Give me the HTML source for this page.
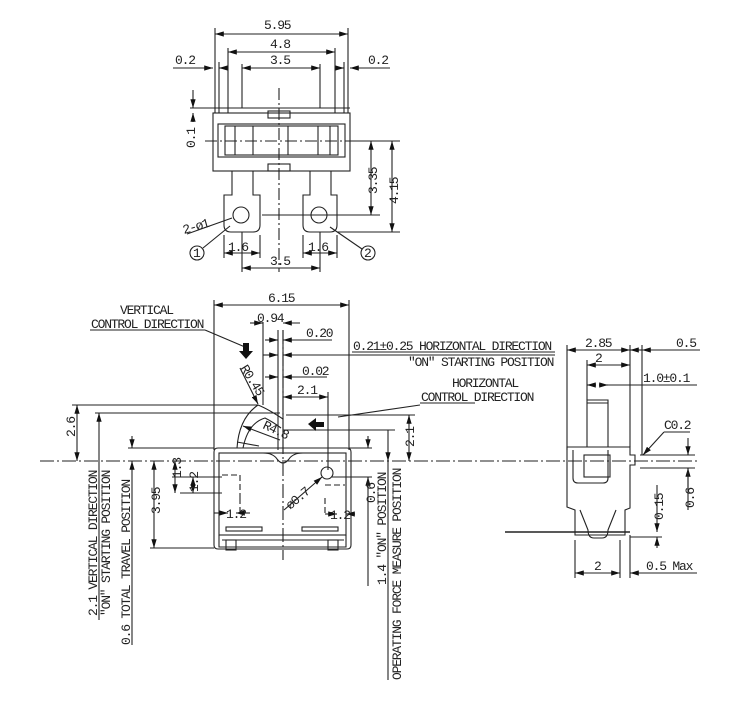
<!DOCTYPE html>
<html><head><meta charset="utf-8"><style>
html,body{margin:0;padding:0;background:#fff}
svg{display:block}
text{font-family:"Liberation Mono",monospace;font-size:13px;letter-spacing:-1.2px;fill:#222}
</style></head><body>
<svg width="750" height="701" viewBox="0 0 750 701" xmlns="http://www.w3.org/2000/svg">
<defs>
<marker id="a" viewBox="0 0 10 6" refX="10" refY="3" markerWidth="8" markerHeight="5" orient="auto-start-reverse"><path d="M0,0L10,3L0,6z" fill="#111"/></marker>
</defs>
<g stroke="#222" stroke-width="1.1" fill="none">
<!-- ===== TOP VIEW ===== -->
<line x1="215" y1="34" x2="348" y2="34" marker-start="url(#a)" marker-end="url(#a)"/>
<line x1="228" y1="52" x2="335" y2="52" marker-start="url(#a)" marker-end="url(#a)"/>
<line x1="242" y1="68" x2="320" y2="68" marker-start="url(#a)" marker-end="url(#a)"/>
<line x1="173" y1="68" x2="213" y2="68" marker-end="url(#a)"/>
<line x1="219" y1="68" x2="228" y2="68" marker-start="url(#a)"/>
<line x1="335" y1="68" x2="344" y2="68" marker-end="url(#a)"/>
<line x1="350" y1="68" x2="390" y2="68" marker-start="url(#a)"/>
<line x1="215" y1="28" x2="215" y2="113"/><line x1="348" y1="28" x2="348" y2="113"/>
<line x1="219" y1="62" x2="219" y2="113"/><line x1="344" y1="62" x2="344" y2="113"/>
<line x1="228" y1="48" x2="228" y2="113"/><line x1="335" y1="48" x2="335" y2="113"/>
<line x1="242" y1="64" x2="242" y2="108"/><line x1="320" y1="64" x2="320" y2="108"/>
<line x1="190" y1="108" x2="350" y2="108"/>
<line x1="193" y1="90" x2="193" y2="108" marker-end="url(#a)"/>
<line x1="193" y1="122" x2="193" y2="113" marker-end="url(#a)"/>
<rect x="213" y="113" width="137" height="58"/>
<rect x="218" y="124" width="127" height="33"/>
<rect x="225" y="126" width="113" height="29"/>
<path d="M235,126v29M253,126v29M288,126v29M318,126v29M330,126v29"/>
<rect x="268" y="111" width="22" height="7"/><rect x="268" y="164" width="22" height="7"/>
<path d="M232,171v24h-8v30q0,7 7,7h22q7,0 7-7v-30h-7v-24"/>
<path d="M310,171v24h-7v30q0,7 7,7h20q7,0 7-7v-30h-6v-24"/>
<circle cx="241" cy="215" r="8"/><circle cx="319" cy="215" r="8"/>
<circle cx="197" cy="253" r="7"/><circle cx="368" cy="253" r="7"/>
<line x1="203" y1="248" x2="230" y2="226"/><line x1="362" y1="249" x2="330" y2="227"/>
<line x1="187" y1="234" x2="232" y2="218"/>
<line x1="350" y1="141" x2="400" y2="141"/><line x1="262" y1="215" x2="380" y2="215"/><line x1="337" y1="232" x2="400" y2="232"/>
<line x1="371" y1="141" x2="371" y2="215" marker-start="url(#a)" marker-end="url(#a)"/>
<line x1="392" y1="141" x2="392" y2="232" marker-start="url(#a)" marker-end="url(#a)"/>
<line x1="224" y1="235" x2="224" y2="258"/><line x1="260" y1="235" x2="260" y2="258"/>
<line x1="303" y1="235" x2="303" y2="258"/><line x1="337" y1="235" x2="337" y2="258"/>
<line x1="242" y1="232" x2="242" y2="272"/><line x1="320" y1="232" x2="320" y2="272"/>
<line x1="224" y1="253" x2="242" y2="253" marker-start="url(#a)"/>
<line x1="242" y1="253" x2="260" y2="253" marker-end="url(#a)"/>
<line x1="303" y1="253" x2="320" y2="253" marker-start="url(#a)"/>
<line x1="320" y1="253" x2="337" y2="253" marker-end="url(#a)"/>
<line x1="242" y1="268" x2="320" y2="268" marker-start="url(#a)" marker-end="url(#a)"/>
<g stroke-dasharray="12 3 2 3"><line x1="279" y1="88" x2="279" y2="272"/><line x1="205" y1="141" x2="350" y2="141"/></g>

<!-- ===== FRONT VIEW ===== -->
<line x1="214" y1="305" x2="349" y2="305" marker-start="url(#a)" marker-end="url(#a)"/>
<line x1="214" y1="300" x2="214" y2="450"/><line x1="349" y1="300" x2="349" y2="450"/>
<path d="M214,452q0-4 4-4h129q4,0 4,4v93q0,4-4,4h-129q-4,0-4-4z"/>
<rect x="219" y="453" width="127" height="82"/>
<path d="M219,535v12h127v-12M222,540h122"/>
<rect x="226" y="527" width="36" height="4"/><rect x="302" y="527" width="36" height="4"/>
<rect x="226" y="540" width="10" height="10"/><rect x="328" y="540" width="10" height="10"/>
<path d="M263,453q10,0 14,6q6,8 12,0q4-6 14-6"/>
<path d="M237,448q2-30 21-43q10,4 25,14"/>
<path d="M243,448q5-25 22-30q8,4 16,10"/>
<path d="M237,442l22,4"/>
<line x1="278" y1="330" x2="278" y2="450"/><line x1="283" y1="330" x2="283" y2="452"/>
<line x1="263" y1="322" x2="263" y2="405"/>
<line x1="250" y1="323" x2="263" y2="323" marker-end="url(#a)"/>
<line x1="300" y1="323" x2="283" y2="323" marker-end="url(#a)"/>
<line x1="265" y1="340" x2="278" y2="340" marker-end="url(#a)"/>
<line x1="332" y1="340" x2="283" y2="340" marker-end="url(#a)"/>
<line x1="263" y1="355" x2="278" y2="355" marker-end="url(#a)"/>
<line x1="555" y1="355" x2="283" y2="355" marker-end="url(#a)"/>
<line x1="265" y1="377" x2="278" y2="377" marker-end="url(#a)"/>
<line x1="327" y1="377" x2="283" y2="377" marker-end="url(#a)"/>
<line x1="283" y1="397" x2="328" y2="397" marker-start="url(#a)" marker-end="url(#a)"/>
<line x1="328" y1="392" x2="328" y2="470"/>
<line x1="240" y1="368" x2="258" y2="404" marker-end="url(#a)"/>
<line x1="280" y1="440" x2="243" y2="426" marker-end="url(#a)"/>
<line x1="205" y1="330" x2="245" y2="347"/>
<line x1="338" y1="417" x2="420" y2="405"/>
<line x1="72" y1="405" x2="258" y2="405"/>
<line x1="95" y1="413" x2="280" y2="413"/>
<line x1="283" y1="430" x2="395" y2="430"/>
<line x1="286" y1="415" x2="415" y2="415"/>
<line x1="128" y1="448" x2="214" y2="448"/>
<line x1="77" y1="405" x2="77" y2="461" marker-start="url(#a)" marker-end="url(#a)"/>
<line x1="99" y1="413" x2="99" y2="461" marker-start="url(#a)"/>
<line x1="99" y1="461" x2="99" y2="620"/>
<line x1="132" y1="436" x2="132" y2="448" marker-end="url(#a)"/>
<line x1="132" y1="472" x2="132" y2="461" marker-end="url(#a)"/>
<line x1="132" y1="472" x2="132" y2="645"/>
<line x1="150" y1="548" x2="214" y2="548"/>
<line x1="154" y1="461" x2="154" y2="548" marker-start="url(#a)" marker-end="url(#a)"/>
<line x1="175" y1="461" x2="175" y2="493" marker-start="url(#a)" marker-end="url(#a)"/>
<line x1="172" y1="477" x2="222" y2="477"/><line x1="180" y1="493" x2="222" y2="493"/>
<line x1="193" y1="477" x2="193" y2="493" marker-start="url(#a)" marker-end="url(#a)"/>
<line x1="409" y1="415" x2="409" y2="461" marker-start="url(#a)" marker-end="url(#a)"/>
<line x1="388" y1="430" x2="388" y2="461" marker-end="url(#a)"/>
<line x1="388" y1="461" x2="388" y2="680"/>
<line x1="368" y1="436" x2="368" y2="448" marker-end="url(#a)"/>
<line x1="368" y1="490" x2="368" y2="477" marker-end="url(#a)"/>
<line x1="368" y1="477" x2="368" y2="586"/>
<line x1="332" y1="477" x2="372" y2="477"/>
<line x1="349" y1="448" x2="372" y2="448"/>
<circle cx="327" cy="473" r="6"/>
<line x1="284" y1="510" x2="322" y2="477" marker-end="url(#a)"/>
<path stroke-dasharray="6 3" d="M222,475h18v23M240,498v15M325,485h20M325,498v15"/>
<line x1="214" y1="513" x2="228" y2="513" marker-end="url(#a)"/>
<line x1="250" y1="513" x2="236" y2="513" marker-end="url(#a)"/>
<line x1="325" y1="514" x2="337" y2="514" marker-end="url(#a)"/>
<line x1="355" y1="514" x2="346" y2="514" marker-end="url(#a)"/>
<g stroke-dasharray="14 3 2 3"><line x1="283" y1="330" x2="283" y2="560"/><line x1="40" y1="461" x2="700" y2="461"/></g>
<line x1="90" y1="330" x2="205" y2="330"/>
<line x1="352" y1="352" x2="555" y2="352"/>
<line x1="420" y1="403" x2="475" y2="403"/>

<!-- ===== SIDE VIEW ===== -->
<line x1="567" y1="350" x2="630" y2="350" marker-start="url(#a)" marker-end="url(#a)"/>
<line x1="630" y1="350" x2="642" y2="350" marker-start="url(#a)"/>
<line x1="642" y1="350" x2="700" y2="350" marker-start="url(#a)"/>
<line x1="587" y1="365" x2="630" y2="365" marker-start="url(#a)" marker-end="url(#a)"/>
<line x1="587" y1="385" x2="596" y2="385" marker-start="url(#a)"/>
<line x1="599" y1="385" x2="608" y2="385" marker-end="url(#a)"/>
<line x1="608" y1="385" x2="697" y2="385"/>
<line x1="567" y1="345" x2="567" y2="450"/><line x1="630" y1="345" x2="630" y2="447"/><line x1="642" y1="345" x2="642" y2="455"/>
<line x1="587" y1="360" x2="587" y2="400"/>
<path d="M587,447v-47h21v47M587,403h21"/>
<path d="M567,447h63v8h5v10h-5v43l-5,2v25h-50v-25l-8-3z"/>
<path d="M573,450v28q0,5 5,5h25q5,0 5-5v-28"/>
<rect x="584" y="455" width="26" height="22"/>
<path d="M580,510l8,20q0,8 6,8h8q6,0 6-8l8-20"/>
<line x1="505" y1="532" x2="630" y2="532" stroke-width="1.6"/>
<line x1="575" y1="540" x2="575" y2="578"/><line x1="620" y1="540" x2="620" y2="578"/><line x1="630" y1="535" x2="630" y2="578"/>
<line x1="575" y1="573" x2="620" y2="573" marker-start="url(#a)" marker-end="url(#a)"/>
<line x1="630" y1="573" x2="697" y2="573" marker-start="url(#a)"/>
<line x1="640" y1="455" x2="695" y2="455"/><line x1="640" y1="468" x2="695" y2="468"/>
<line x1="688" y1="438" x2="688" y2="455" marker-end="url(#a)"/>
<line x1="688" y1="490" x2="688" y2="468" marker-end="url(#a)"/>
<line x1="688" y1="468" x2="688" y2="510"/>
<line x1="657" y1="485" x2="657" y2="532" marker-end="url(#a)"/>
<line x1="657" y1="548" x2="657" y2="537" marker-end="url(#a)"/>
<line x1="630" y1="537" x2="662" y2="537"/>
<line x1="664" y1="432" x2="690" y2="432"/>
<line x1="664" y1="432" x2="643" y2="455" marker-end="url(#a)"/>
</g>
<g fill="#111">
<path d="M243,343h6v8h4l-7,8l-7-8h4z"/>
<path d="M308,424l8-6v4h8v5h-8v4z"/>
</g>
<!-- TEXT -->
<text x="264" y="29">5.95</text>
<text x="270" y="48">4.8</text>
<text x="270" y="64">3.5</text>
<text x="175" y="64">0.2</text>
<text x="368" y="64">0.2</text>
<text x="0" y="0" transform="translate(195,148) rotate(-90)">0.1</text>
<text x="0" y="0" transform="translate(377,194) rotate(-90)">3.35</text>
<text x="0" y="0" transform="translate(398,204) rotate(-90)">4.15</text>
<text x="184" y="234" transform="rotate(-16 184 234)">2-ø1</text>
<text x="193" y="257" font-size="11">1</text>
<text x="364" y="257" font-size="11">2</text>
<text x="228" y="251">1.6</text>
<text x="308" y="251">1.6</text>
<text x="270" y="265">3.5</text>
<text x="268" y="302">6.15</text>
<text x="120" y="314">VERTICAL</text>
<text x="91" y="328">CONTROL DIRECTION</text>
<text x="257" y="322">0.94</text>
<text x="306" y="337">0.20</text>
<text x="353" y="350">0.21±0.25 HORIZONTAL DIRECTION</text>
<text x="408" y="366">"ON" STARTING POSITION</text>
<text x="302" y="375">0.02</text>
<text x="297" y="394">2.1</text>
<text x="452" y="387">HORIZONTAL</text>
<text x="421" y="401">CONTROL DIRECTION</text>
<text x="0" y="0" font-size="10" transform="translate(240,368) rotate(58)">R0.45</text>
<text x="0" y="0" font-size="10" transform="translate(262,428) rotate(25)">R4.8</text>
<text x="0" y="0" transform="translate(75,437) rotate(-90)">2.6</text>
<text x="0" y="0" transform="translate(414,447) rotate(-90)">2.1</text>
<text x="0" y="0" transform="translate(160,514) rotate(-90)">3.95</text>
<text x="0" y="0" transform="translate(181,478) rotate(-90)">1.3</text>
<text x="0" y="0" transform="translate(198,492) rotate(-90)">1.2</text>
<text x="0" y="0" transform="translate(375,503) rotate(-90)">0.6</text>
<text x="226" y="518">1.2</text>
<text x="330" y="519">1.2</text>
<text x="0" y="0" transform="translate(290,510) rotate(-40)">ø0.7</text>
<text x="0" y="0" transform="translate(97,616) rotate(-90)">2.1 VERTICAL DIRECTION</text>
<text x="0" y="0" transform="translate(110,616) rotate(-90)">"ON" STARTING POSITION</text>
<text x="0" y="0" transform="translate(130,645) rotate(-90)">0.6 TOTAL TRAVEL POSITION</text>
<text x="0" y="0" transform="translate(386,585) rotate(-90)">1.4 "ON" POSITION</text>
<text x="0" y="0" transform="translate(401,680) rotate(-90)">OPERATING FORCE MEASURE POSITION</text>
<text x="585" y="347">2.85</text>
<text x="676" y="347">0.5</text>
<text x="595" y="362">2</text>
<text x="643" y="382">1.0±0.1</text>
<text x="664" y="429">C0.2</text>
<text x="0" y="0" transform="translate(694,508) rotate(-90)">0.6</text>
<text x="0" y="0" transform="translate(663,520) rotate(-90)">0.15</text>
<text x="594" y="570">2</text>
<text x="646" y="570">0.5 Max</text>
</svg>
</body></html>
